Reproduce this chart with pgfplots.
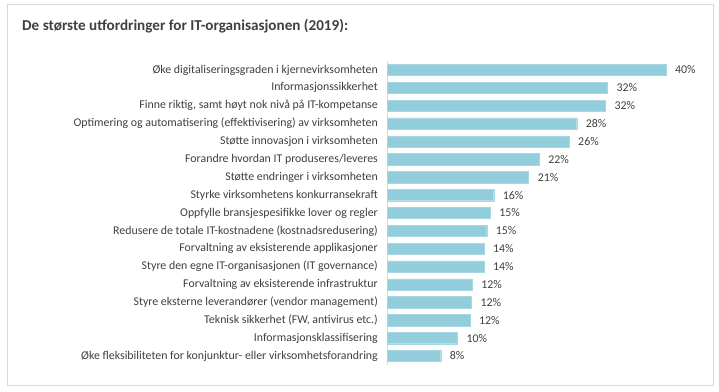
\documentclass[border=0pt]{standalone}
\usepackage{fontspec}
\setmainfont{Carlito}
\usepackage{pgfplots}
\pgfplotsset{compat=1.18}
\usepackage{pgfplotstable}
\definecolor{barc}{HTML}{92CDDC}
\definecolor{txt}{HTML}{404040}
\definecolor{framec}{HTML}{D9D9D9}
\pgfplotstableread{
y x lab
0 40.0 40
1 31.6 32
2 31.3 32
3 27.2 28
4 26.1 26
5 21.8 22
6 20.3 21
7 15.3 16
8 14.8 15
9 14.3 15
10 13.9 14
11 13.9 14
12 12.2 12
13 12.1 12
14 11.9 12
15 10.1 10
16 7.7 8
}\datatable
\begin{document}
\begin{tikzpicture}
\fill[white] (0bp,0bp) rectangle (719bp,392bp);
\draw[framec, line width=1bp] (7bp,6bp) rectangle (713bp,387bp);
\node[anchor=base west, inner sep=0pt, text=txt, font=\fontsize{15.2}{18}\selectfont\bfseries] at (22bp,361.5bp) {De største utfordringer for IT-organisasjonen (2019):};
\begin{axis}[
  at={(387bp,27.1bp)}, anchor=south west,
  scale only axis, width=279bp, height=303.9bp,
  xmin=0, xmax=40, ymin=-0.5, ymax=16.5,
  y dir=reverse,
  xbar, bar width=11.3bp,
  axis x line=none,
  axis y line*=left,
  y axis line style={draw=framec, line width=1bp, -},
  major tick length=0pt,
  ytick={0,...,16},
  yticklabels={
    Øke digitaliseringsgraden i kjernevirksomheten,
    Informasjonssikkerhet,
    {Finne riktig, samt høyt nok nivå på IT-kompetanse},
    Optimering og automatisering (effektivisering) av virksomheten,
    Støtte innovasjon i virksomheten,
    Forandre hvordan IT produseres/leveres,
    Støtte endringer i virksomheten,
    Styrke virksomhetens konkurransekraft,
    Oppfylle bransjespesifikke lover og regler,
    Redusere de totale IT-kostnadene (kostnadsredusering),
    Forvaltning av eksisterende applikasjoner,
    Styre den egne IT-organisasjonen (IT governance),
    Forvaltning av eksisterende infrastruktur,
    Styre eksterne leverandører (vendor management),
    {Teknisk sikkerhet (FW, antivirus etc.)},
    Informasjonsklassifisering,
    Øke fleksibiliteten for konjunktur- eller virksomhetsforandring
  },
  yticklabel style={font=\fontsize{11.9}{14}\selectfont, text=txt, inner sep=0pt, xshift=-9bp},
  clip=false,
  point meta=explicit symbolic,
  nodes near coords={\pgfplotspointmeta\%},
  nodes near coords style={font=\fontsize{11.9}{14}\selectfont, text=txt, anchor=west, inner sep=0pt, xshift=9bp},
]
\addplot[fill=barc, draw=barc!80!white] table[x=x, y=y, meta=lab] {\datatable};
\end{axis}
\end{tikzpicture}
\end{document}
